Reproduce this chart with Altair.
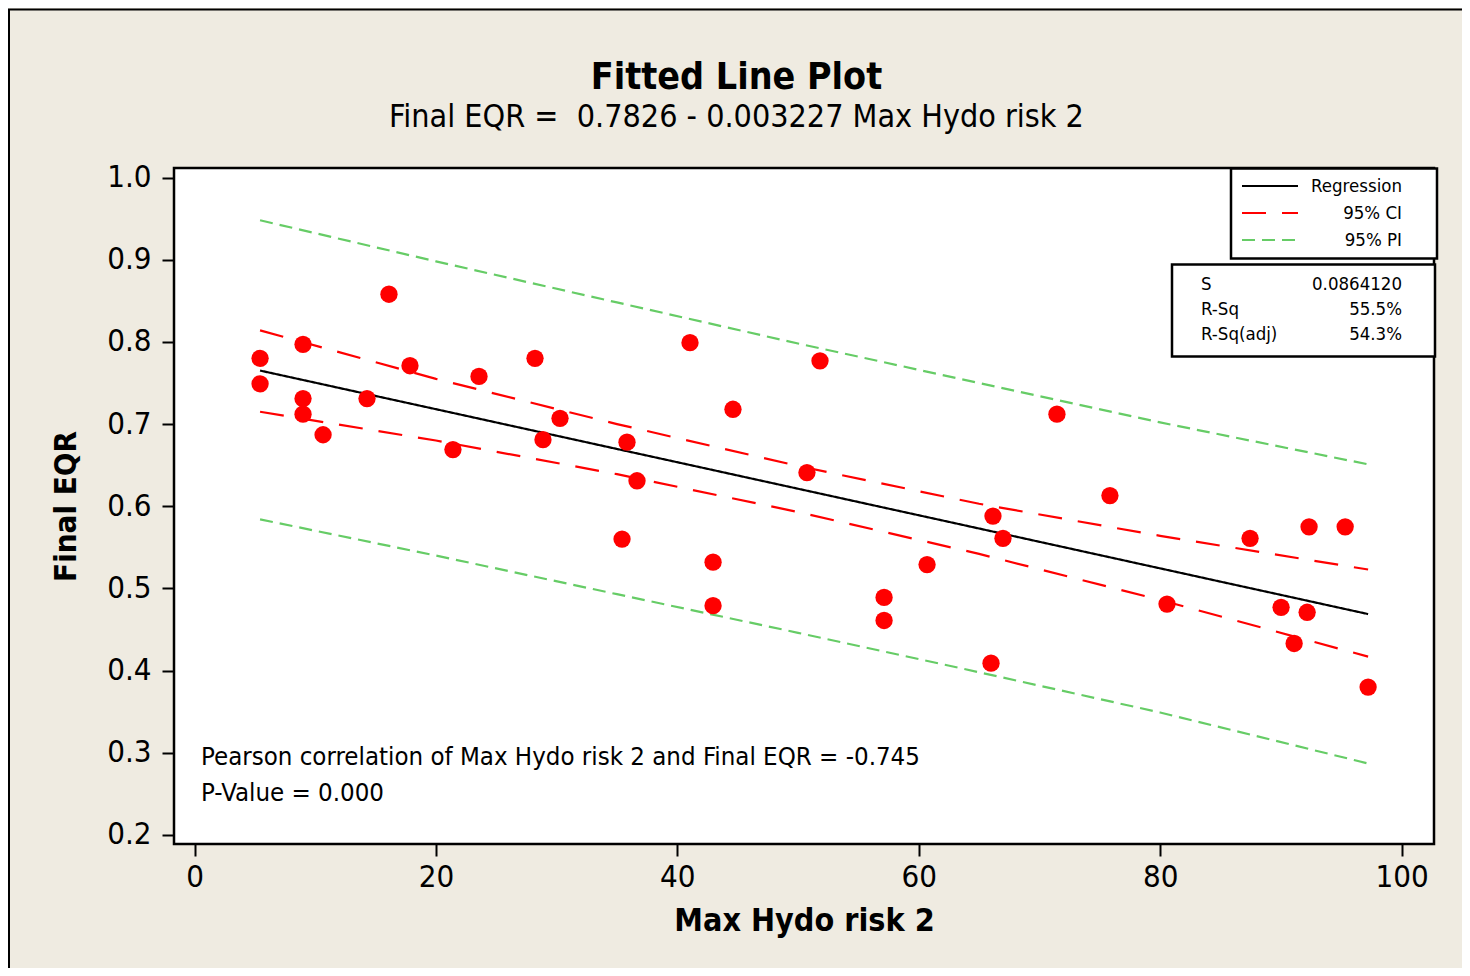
import altair as alt
import pandas as pd

# ---- data ----
x_vals = [5.43, 5.43, 8.99, 8.99, 8.99, 10.65, 14.29, 16.11, 17.85, 21.41,
          23.57, 28.21, 28.87, 30.28, 35.42, 35.83, 36.66, 41.05, 42.96, 42.96,
          44.61, 50.74, 51.82, 57.13, 57.13, 60.69, 65.99, 66.15, 66.98, 71.45,
          75.84, 80.57, 87.45, 90.02, 91.10, 92.18, 92.34, 95.33, 97.23]
y_vals = [0.780, 0.749, 0.797, 0.731, 0.712, 0.687, 0.731, 0.858, 0.771, 0.669,
          0.758, 0.780, 0.681, 0.707, 0.560, 0.678, 0.631, 0.799, 0.532, 0.479,
          0.718, 0.641, 0.777, 0.489, 0.461, 0.529, 0.409, 0.588, 0.561, 0.712,
          0.613, 0.481, 0.561, 0.477, 0.433, 0.471, 0.575, 0.575, 0.380]

band_x = [5.43, 20, 35, 50, 65, 80, 97.23]
reg_y = [0.7651, 0.7181, 0.6697, 0.6213, 0.5729, 0.5244, 0.4688]
ci_upper = [0.814, 0.755, 0.700, 0.649, 0.603, 0.564, 0.523]
ci_lower = [0.715, 0.680, 0.639, 0.593, 0.542, 0.486, 0.417]
pi_upper = [0.948, 0.898, 0.848, 0.798, 0.750, 0.702, 0.651]
pi_lower = [0.584, 0.540, 0.493, 0.446, 0.398, 0.349, 0.287]

series_names = ["Regression", "95% CI", "95% PI"]
series_colors = ["#000000", "#ff0000", "#66cc66"]
series_dash = [[1, 0], [24, 16], [13, 7]]

x_ticks = [0, 20, 40, 60, 80, 100]
y_ticks = [0.2, 0.3, 0.4, 0.5, 0.6, 0.7, 0.8, 0.9, 1.0]

title_text = "Fitted Line Plot"
subtitle_text = "Final EQR =\u00a0 0.7826 - 0.003227 Max Hydo risk 2"
x_title = "Max Hydo risk 2"
y_title = "Final EQR"
stats_labels = ["S", "R-Sq", "R-Sq(adj)"]
stats_values = ["0.0864120", "55.5%", "54.3%"]
note_lines = ["Pearson correlation of Max Hydo risk 2 and Final EQR = -0.745",
              "P-Value = 0.000"]

FONT = "DejaVu Sans Condensed, DejaVu Sans"
W, H = 1260, 676

# ---- tables ----
pts = pd.DataFrame({"x": x_vals, "y": y_vals})
rows = []
for name, band, yy in [("Regression", "mid", reg_y),
                       ("95% CI", "upper", ci_upper), ("95% CI", "lower", ci_lower),
                       ("95% PI", "upper", pi_upper), ("95% PI", "lower", pi_lower)]:
    for xv, yv in zip(band_x, yy):
        rows.append({"x": xv, "y": yv, "series": name, "band": name + band})
lines_df = pd.DataFrame(rows)

xs = alt.Scale(domain=[-1.70, 102.69], nice=False, zero=False)
ys = alt.Scale(domain=[0.189, 1.0116], nice=False, zero=False)

x_axis = alt.Axis(values=x_ticks, title=x_title, labelFontSize=31, titleFontSize=32,
                  titleFontWeight="bold", tickSize=12, tickWidth=2, tickColor="black",
                  labelColor="black", titleColor="black", domain=False, grid=False,
                  labelPadding=6, titlePadding=13, labelFont=FONT, titleFont=FONT)
y_axis = alt.Axis(values=y_ticks, format=".1f", title=y_title, labelFontSize=31,
                  titleFontSize=31, titleFontWeight="bold", tickSize=12, tickWidth=2,
                  tickColor="black", labelColor="black", titleColor="black",
                  domain=False, grid=False, labelPadding=11, titlePadding=24,
                  labelFont=FONT, titleFont=FONT)

one = pd.DataFrame({"a": [0]})
frame = alt.Chart(one).mark_rect(fill=None, stroke="black", strokeWidth=2).encode(
    x=alt.value(-165), x2=alt.value(1320), y=alt.value(-158.5), y2=alt.value(950))

lines = alt.Chart(lines_df).mark_line(strokeWidth=2.2).encode(
    x=alt.X("x:Q", scale=xs, axis=x_axis),
    y=alt.Y("y:Q", scale=ys, axis=y_axis),
    detail="band:N",
    color=alt.Color("series:N", scale=alt.Scale(domain=series_names, range=series_colors),
                    legend=None),
    strokeDash=alt.StrokeDash("series:N", scale=alt.Scale(domain=series_names, range=series_dash),
                              legend=None),
)

points = alt.Chart(pts).mark_circle(size=300, color="#ff0000", opacity=1).encode(
    x=alt.X("x:Q", scale=xs), y=alt.Y("y:Q", scale=ys))

legend_box = alt.Chart(one).mark_rect(fill="white", stroke="black", strokeWidth=2.5).encode(
    x=alt.value(1057), x2=alt.value(1263), y=alt.value(0.5), y2=alt.value(90.5))
stats_box = alt.Chart(one).mark_rect(fill="white", stroke="black", strokeWidth=2.5).encode(
    x=alt.value(998), x2=alt.value(1261), y=alt.value(96.5), y2=alt.value(188.5))

layers = [frame, legend_box, stats_box, lines, points]

# legend keys (annotation)
for i, (name, col, dash) in enumerate(zip(series_names, series_colors, series_dash)):
    yy = 18 + 27 * i
    layers.append(alt.Chart(one).mark_rule(color=col, strokeDash=dash, strokeWidth=2.2).encode(
        x=alt.value(1068), x2=alt.value(1124), y=alt.value(yy)))
    layers.append(alt.Chart(pd.DataFrame({"t": [name]})).mark_text(
        align="right", baseline="middle", fontSize=18.5, font=FONT, color="black").encode(
        x=alt.value(1228), y=alt.value(yy), text="t:N"))

layers.append(alt.Chart(pd.DataFrame({"t": [title_text]})).mark_text(
    align="center", baseline="alphabetic", fontSize=37.3, fontWeight="bold", font=FONT,
    color="black").encode(x=alt.value(562.5), y=alt.value(-79), text="t:N"))
layers.append(alt.Chart(pd.DataFrame({"t": [subtitle_text]})).mark_text(
    align="center", baseline="alphabetic", fontSize=32, font=FONT,
    color="black").encode(x=alt.value(562.5), y=alt.value(-41), text="t:N"))
for i, (lab, val) in enumerate(zip(stats_labels, stats_values)):
    yy = 115.5 + 25 * i
    layers.append(alt.Chart(pd.DataFrame({"t": [lab]})).mark_text(
        align="left", baseline="middle", fontSize=18.5, font=FONT, color="black").encode(
        x=alt.value(1027), y=alt.value(yy), text="t:N"))
    layers.append(alt.Chart(pd.DataFrame({"t": [val]})).mark_text(
        align="right", baseline="middle", fontSize=18.5, font=FONT, color="black").encode(
        x=alt.value(1228), y=alt.value(yy), text="t:N"))
for i, line in enumerate(note_lines):
    layers.append(alt.Chart(pd.DataFrame({"t": [line]})).mark_text(
        align="left", baseline="alphabetic", fontSize=25.6, font=FONT, color="black").encode(
        x=alt.value(27), y=alt.value(597 + 36 * i), text="t:N"))

chart = alt.layer(*layers).properties(
    width=W, height=H,
    autosize=alt.AutoSizeParams(type="none"),
    padding={"left": 166, "top": 160, "right": 28, "bottom": 124},
).configure(background="#EFEBE1").configure_view(fill="white", stroke="black", strokeWidth=2.5)

chart.save("out.html", embed_options={"renderer": "svg", "actions": False})
